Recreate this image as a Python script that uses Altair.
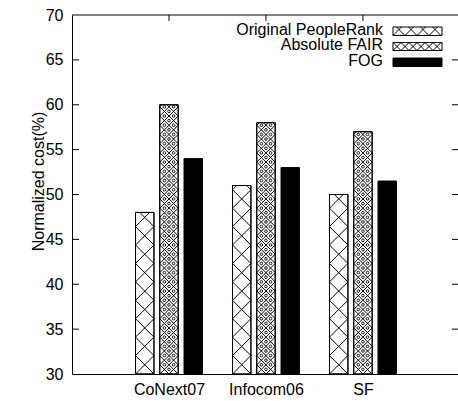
import altair as alt
import numpy as np
import pandas as pd

# ---- chart values ----
categories = ["CoNext07", "Infocom06", "SF"]
series = ["Original PeopleRank", "Absolute FAIR", "FOG"]
peoplerank = [48, 51, 50]
fair = [60, 58, 57]
fog = [54, 53, 51.5]
y_ticks = [30, 35, 40, 45, 50, 55, 60, 65, 70]

# ---- layout ----
W, H = 386, 359
X_DOM = [-1, 2.98]
Y_DOM = [30, 70]
KX = W / (X_DOM[1] - X_DOM[0])
KY = H / (Y_DOM[1] - Y_DOM[0])
FONT = "Liberation Sans"
FS = 16
BAR_W = 0.19
BAR_STEP = 0.25


def dx(px):
    return X_DOM[0] + px / KX


def dy(py):
    return Y_DOM[1] - py / KY


def px_x(x):
    return (x - X_DOM[0]) * KX


def px_y(y):
    return (Y_DOM[1] - y) * KY


def crosshatch(x0, y0, x1, y1, period):
    """45-degree crosshatch clipped to a pixel rectangle, anchored at its lower-left corner."""
    segs = []
    p1 = x0 - y1
    for k in range(int(np.floor((x0 - y1 - p1) / period)) - 1,
                   int(np.ceil((x1 - y0 - p1) / period)) + 2):
        c = p1 + k * period
        xa, xb = max(x0, y0 + c), min(x1, y1 + c)
        if xb - xa > 0.3:
            segs.append((xa, xa - c, xb, xb - c))
    p2 = x0 + y1
    for k in range(int(np.floor((x0 + y0 - p2) / period)) - 1,
                   int(np.ceil((x1 + y1 - p2) / period)) + 2):
        c = p2 + k * period
        xa, xb = max(x0, c - y1), min(x1, c - y0)
        if xb - xa > 0.3:
            segs.append((xa, c - xa, xb, c - xb))
    return segs


def cell_centres(x0, y0, x1, y1, period, margin=1.8):
    pts = []
    h = period / 2
    ni = int((x1 - x0) / h) + 2
    nj = int((y1 - y0) / h) + 2
    for i in range(ni):
        for j in range(nj):
            if (i + j) % 2 == 1:
                x, y = x0 + i * h, y1 - j * h
                if x0 + margin < x < x1 - margin and y0 + margin < y < y1 - margin:
                    pts.append((x, y))
    return pts


# ---- bar table ----
values = {series[0]: peoplerank, series[1]: fair, series[2]: fog}
rows = []
for s_i, s in enumerate(series):
    for g_i, cat in enumerate(categories):
        xc = g_i + (s_i - 1) * BAR_STEP
        rows.append({"category": cat, "series": s, "value": values[s][g_i],
                     "x0": xc - BAR_W / 2, "x1": xc + BAR_W / 2})
bars = pd.DataFrame(rows)

# ---- textures (hatch lines and small rings) ----
seg_rows, ring_rows = [], []
for _, r in bars.iterrows():
    if r["series"] == "FOG":
        continue
    X0, X1 = px_x(r["x0"]), px_x(r["x1"])
    Y0, Y1 = px_y(r["value"]), px_y(Y_DOM[0])
    w = X1 - X0
    period = w if r["series"] == series[0] else w / 2
    for a, b, c, d in crosshatch(X0, Y0, X1, Y1, period):
        seg_rows.append({"x": dx(a), "y": dy(b), "x2": dx(c), "y2": dy(d)})
    if r["series"] == series[1]:
        for a, b in cell_centres(X0, Y0, X1, Y1, period):
            ring_rows.append({"x": dx(a), "y": dy(b)})

# legend geometry (plot pixels)
LEG_TEXT_X = 311
LEG_SW_X0, LEG_SW_X1 = 321, 370
LEG_ROWS = [(12, 20.5, 19.5), (27.5, 35.5, 35), (43, 51.5, 50.5)]  # swatch top, bottom, text baseline
for s_i, (t, b, _) in enumerate(LEG_ROWS[:2]):
    period = 12 if s_i == 0 else 8
    for a, bb, c, d in crosshatch(LEG_SW_X0, t, LEG_SW_X1, b, period):
        seg_rows.append({"x": dx(a), "y": dy(bb), "x2": dx(c), "y2": dy(d)})

segs = pd.DataFrame(seg_rows)
rings = pd.DataFrame(ring_rows)

xs = alt.Scale(domain=X_DOM, nice=False, zero=False)
ys = alt.Scale(domain=Y_DOM, nice=False, zero=False)

X_AXIS = alt.Axis(values=[0, 1, 2],
                  labelExpr="['" + "','".join(categories) + "'][datum.value]",
                  title=None, ticks=False, tickSize=0, grid=False,
                  domain=True, domainColor="black", domainWidth=1,
                  labelFont=FONT, labelFontSize=FS, labelColor="black",
                  labelPadding=7)
Y_AXIS = alt.Axis(values=y_ticks, title="Normalized cost(%)", ticks=False, tickSize=0,
                  grid=False, domain=True, domainColor="black", domainWidth=1,
                  labelFont=FONT, labelFontSize=FS, labelColor="black", labelPadding=9,
                  titleFont=FONT, titleFontSize=FS, titleFontWeight="normal",
                  titleColor="black", titleX=-34, titleY=166, titleAlign="center",
                  titleBaseline="middle")

pattern_bars = bars[bars["series"] != "FOG"]
solid_bars = bars[bars["series"] == "FOG"]

outline = alt.Chart(pattern_bars).mark_rect(fill="white", stroke="black", strokeWidth=1).encode(
    x=alt.X("x0:Q", scale=xs, axis=X_AXIS),
    x2="x1:Q",
    y=alt.Y("value:Q", scale=ys, axis=Y_AXIS),
    y2=alt.datum(Y_DOM[0]),
)
hatch = alt.Chart(segs).mark_rule(color="black", strokeWidth=1).encode(
    x=alt.X("x:Q", scale=xs, axis=X_AXIS), x2="x2:Q",
    y=alt.Y("y:Q", scale=ys, axis=Y_AXIS), y2="y2:Q",
)
ring = alt.Chart(rings).mark_point(shape="circle", filled=False, size=7,
                                   color="black", strokeWidth=0.9, opacity=1).encode(
    x=alt.X("x:Q", scale=xs, axis=X_AXIS),
    y=alt.Y("y:Q", scale=ys, axis=Y_AXIS),
)
outline_top = alt.Chart(pattern_bars).mark_rect(fillOpacity=0, stroke="black", strokeWidth=1).encode(
    x=alt.X("x0:Q", scale=xs, axis=X_AXIS),
    x2="x1:Q",
    y=alt.Y("value:Q", scale=ys, axis=Y_AXIS),
    y2=alt.datum(Y_DOM[0]),
)
solid = alt.Chart(solid_bars).mark_rect(fill="black", stroke="black", strokeWidth=1).encode(
    x=alt.X("x0:Q", scale=xs, axis=X_AXIS),
    x2="x1:Q",
    y=alt.Y("value:Q", scale=ys, axis=Y_AXIS),
    y2=alt.datum(Y_DOM[0]),
)

# frame: top border and inward ticks
one = pd.DataFrame({"k": [0]})
top_border = alt.Chart(one).mark_rule(color="black", strokeWidth=1).encode(
    x=alt.value(0), x2=alt.value(W), y=alt.value(0))
tick_df = pd.DataFrame({"t": y_ticks[1:-1]})
left_ticks = alt.Chart(tick_df).mark_rule(color="black", strokeWidth=1).encode(
    x=alt.value(0), x2=alt.value(7), y=alt.Y("t:Q", scale=ys, axis=Y_AXIS))
right_ticks = alt.Chart(tick_df).mark_rule(color="black", strokeWidth=1).encode(
    x=alt.value(W - 6), x2=alt.value(W), y=alt.Y("t:Q", scale=ys, axis=Y_AXIS))
top_ticks = alt.Chart(pd.DataFrame({"g": [0, 1, 2]})).mark_rule(color="black", strokeWidth=1).encode(
    x=alt.X("g:Q", scale=xs, axis=X_AXIS), y=alt.value(0), y2=alt.value(6))

# key
legend_layers = []
for s_i, (s, (t, b, base)) in enumerate(zip(series, LEG_ROWS)):
    legend_layers.append(
        alt.Chart(one).mark_text(text=s, align="right", baseline="alphabetic",
                                 font=FONT, fontSize=FS, color="black").encode(
            x=alt.value(LEG_TEXT_X), y=alt.value(base)))
    legend_layers.append(
        alt.Chart(one).mark_rect(fill="black" if s == "FOG" else "white",
                                 fillOpacity=1 if s == "FOG" else 0,
                                 stroke="black", strokeWidth=1).encode(
            x=alt.value(LEG_SW_X0), x2=alt.value(LEG_SW_X1),
            y=alt.value(t), y2=alt.value(b)))

chart = alt.layer(
    outline, hatch, ring, outline_top, solid,
    top_border, left_ticks, right_ticks, top_ticks,
    *legend_layers,
).properties(
    width=W, height=H,
    autosize=alt.AutoSizeParams(type="none"),
    padding={"left": 72, "top": 15, "right": 0, "bottom": 27},
    background="white",
).configure_view(stroke=None)

chart.save("out.html", embed_options={"renderer": "svg", "actions": False})
